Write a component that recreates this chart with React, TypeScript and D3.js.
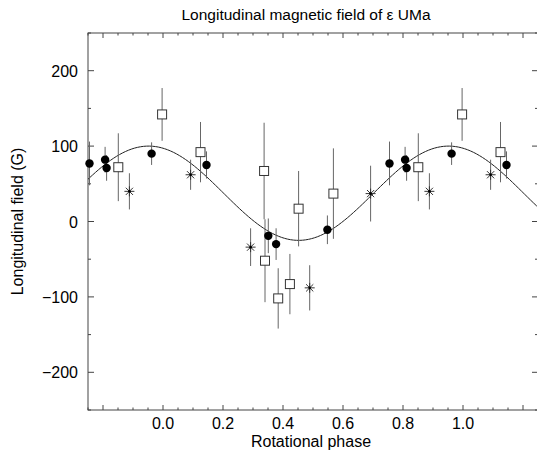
import React from 'react';
import * as d3 from 'd3';

// filled circles
const circlePhase = [0.755, 0.807, 0.812, 0.962, 0.145, 0.351, 0.377, 0.548];
const circleField = [77, 82, 71, 90, 75, -19, -30, -11];
const circleErr = [29, 17, 17, 15, 18, 23, 21, 19];

// open squares
const squarePhase = [0.851, 0.997, 0.125, 0.337, 0.34, 0.384, 0.423, 0.452, 0.568];
const squareField = [72, 142, 92, 67, -52, -102, -83, 17, 37];
const squareErr = [45, 35, 40, 64, 55, 40, 40, 50, 60];

// asterisks
const starPhase = [0.888, 0.092, 0.292, 0.489, 0.692];
const starField = [40, 62, -34, -88, 37];
const starErr = [24, 20, 25, 30, 37];

// sinusoid fit: mean, amplitude, phase of maximum
const fitParams = [37.5, 62.5, 0.952];

const xTickLabels = ['0.0', '0.2', '0.4', '0.6', '0.8', '1.0'];
const yTickLabels = ['200', '100', '0', '\u2212100', '\u2212200'];

const W = 537;
const H = 454;
const left = 88, right = 538, top = 33, bottom = 410;
const font = "'Liberation Sans', Arial, Helvetica, sans-serif";

type Pt = { x: number; y: number; e: number };

// repeat each point one cycle earlier / later when it falls inside the plotted phase range
const fold = (ph: number[], f: number[], e: number[]): Pt[] => {
    const out: Pt[] = [];
    ph.forEach((p, i) => {
        [-1, 0, 1].forEach(k => {
            const x = p + k;
            if (x >= -0.25 && x <= 1.25) out.push({ x, y: f[i], e: e[i] });
        });
    });
    return out;
};

export default function App() {
    const x = d3.scaleLinear().domain([-0.25, 1.25]).range([left, right]);
    const y = d3.scaleLinear().domain([-250, 250]).range([bottom, top]);

    const [mean, amp, phMax] = fitParams;
    const curve = d3.line<number>()
        .x(p => x(p))
        .y(p => y(mean + amp * Math.cos(2 * Math.PI * (p - phMax))))(d3.range(-0.25, 1.2501, 0.005));

    const circles = fold(circlePhase, circleField, circleErr);
    const squares = fold(squarePhase, squareField, squareErr);
    const stars = fold(starPhase, starField, starErr);

    const xMinor = d3.range(-0.25, 1.2501, 0.05).map(v => +v.toFixed(2));
    const xMajor = d3.range(-0.2, 1.2001, 0.2).map(v => +v.toFixed(2));
    const yMinor = d3.range(-250, 251, 50);
    const yMajor = d3.range(-200, 201, 100);
    const xLabelVals = xTickLabels.map(Number);
    const yLabelVals = [200, 100, 0, -100, -200];

    const axisColor = '#444';
    const errColor = '#666';

    const errBar = (d: Pt, i: number, key: string) => (
        <line key={key + i} x1={x(d.x)} x2={x(d.x)} y1={y(d.y - d.e)} y2={y(d.y + d.e)}
            stroke={errColor} strokeWidth={1} />
    );

    return (
        <svg width={W} height={H} style={{ position: 'absolute', left: 0, top: 0, background: '#fff' }}>
            <defs>
                <clipPath id="plot">
                    <rect x={left} y={top} width={right - left} height={bottom - top} />
                </clipPath>
            </defs>

            {/* frame */}
            <rect x={left} y={top} width={right - left} height={bottom - top} fill="none" stroke={axisColor} strokeWidth={1} />

            {/* x ticks, inward on bottom and top */}
            {xMinor.map(v => {
                const major = xMajor.some(m => Math.abs(m - v) < 1e-6);
                const len = major ? 5 : 2.5;
                return (
                    <g key={'xt' + v}>
                        <line x1={x(v)} x2={x(v)} y1={bottom} y2={bottom - len} stroke={axisColor} />
                        <line x1={x(v)} x2={x(v)} y1={top} y2={top + len} stroke={axisColor} />
                    </g>
                );
            })}
            {/* y ticks, inward on left and right */}
            {yMinor.map(v => {
                const major = yMajor.includes(v);
                const len = major ? 6 : 3;
                return (
                    <g key={'yt' + v}>
                        <line x1={left} x2={left + len} y1={y(v)} y2={y(v)} stroke={axisColor} />
                        <line x1={right} x2={right - len} y1={y(v)} y2={y(v)} stroke={axisColor} />
                    </g>
                );
            })}

            {xTickLabels.map((t, i) => (
                <text key={'xl' + t} x={x(xLabelVals[i])} y={429} textAnchor="middle"
                    fontFamily={font} fontSize={16} fill="#000">{t}</text>
            ))}
            {yTickLabels.map((t, i) => (
                <text key={'yl' + t} x={78} y={y(yLabelVals[i]) + 6} textAnchor="end"
                    fontFamily={font} fontSize={16} fill="#000">{t}</text>
            ))}

            <text x={306} y={20} textAnchor="middle" fontFamily={font} fontSize={15.5} fill="#000">
                Longitudinal magnetic field of ε UMa
            </text>
            <text x={311} y={447} textAnchor="middle" fontFamily={font} fontSize={16} fill="#000">
                Rotational phase
            </text>
            <text transform={`translate(23, ${(top + bottom) / 2}) rotate(-90)`} textAnchor="middle"
                fontFamily={font} fontSize={16} fill="#000">
                Longitudinal field (G)
            </text>

            {/* fitted curve */}
            <path d={curve || ''} fill="none" stroke="#222" strokeWidth={1} clipPath="url(#plot)" />

            {/* error bars */}
            {circles.map((d, i) => errBar(d, i, 'ce'))}
            {squares.map((d, i) => errBar(d, i, 'se'))}
            {stars.map((d, i) => errBar(d, i, 'ae'))}

            {/* symbols */}
            {squares.map((d, i) => (
                <rect key={'s' + i} x={x(d.x) - 4.5} y={y(d.y) - 4.5} width={9} height={9}
                    fill="#fff" stroke="#333" strokeWidth={1} />
            ))}
            {circles.map((d, i) => (
                <circle key={'c' + i} cx={x(d.x)} cy={y(d.y)} r={4.2} fill="#000" />
            ))}
            {stars.map((d, i) => {
                const cx = x(d.x), cy = y(d.y), r = 5, q = 3.6;
                return (
                    <g key={'a' + i} stroke="#333" strokeWidth={1}>
                        <line x1={cx - r} x2={cx + r} y1={cy} y2={cy} />
                        <line x1={cx} x2={cx} y1={cy - r} y2={cy + r} />
                        <line x1={cx - q} x2={cx + q} y1={cy - q} y2={cy + q} />
                        <line x1={cx - q} x2={cx + q} y1={cy + q} y2={cy - q} />
                        <circle cx={cx} cy={cy} r={1.3} fill="#000" stroke="none" />
                    </g>
                );
            })}
        </svg>
    );
}
